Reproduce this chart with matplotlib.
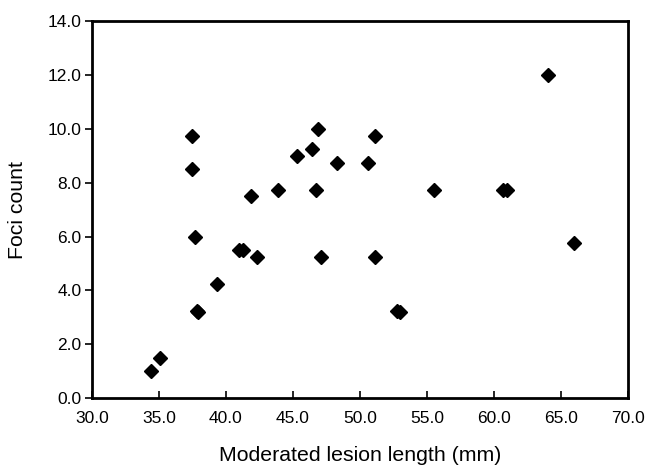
import matplotlib
matplotlib.use("Agg")
from matplotlib import pyplot as plt
from matplotlib.ticker import FormatStrFormatter

# lesion length (mm) vs foci count
lesion_mm = [34.4, 35.1, 37.5, 37.5, 37.7, 37.8, 37.9, 39.3, 41.0, 41.3,
             41.9, 42.3, 43.9, 45.3, 46.4, 46.9, 46.7, 47.1, 48.3, 50.6,
             51.1, 51.1, 52.8, 53.0, 55.5, 60.7, 61.0, 64.0, 66.0]
foci = [1.0, 1.5, 9.75, 8.5, 6.0, 3.25, 3.2, 4.25, 5.5, 5.5,
        7.5, 5.25, 7.75, 9.0, 9.25, 10.0, 7.75, 5.25, 8.75, 8.75,
        9.75, 5.25, 3.25, 3.2, 7.75, 7.75, 7.75, 12.0, 5.75]

x_ticks = [30, 35, 40, 45, 50, 55, 60, 65, 70]
y_ticks = [0, 2, 4, 6, 8, 10, 12, 14]

plt.rcParams['font.family'] = ['Liberation Sans', 'DejaVu Sans']

fig = plt.figure(figsize=(6.48, 4.67), dpi=100)
ax = fig.add_axes([0.142, 0.148, 0.827, 0.806])

ax.plot(lesion_mm, foci, linestyle='none', marker='D', markersize=7.5,
        color='black')

ax.set_xlim(30, 70)
ax.set_ylim(0, 14)
ax.set_xticks(x_ticks)
ax.set_yticks(y_ticks)
ax.xaxis.set_major_formatter(FormatStrFormatter('%.1f'))
ax.yaxis.set_major_formatter(FormatStrFormatter('%.1f'))

for s in ax.spines.values():
    s.set_linewidth(2)
ax.tick_params(axis='x', direction='in', length=5, width=1.2, labelsize=12.5, pad=9.5)
ax.tick_params(axis='y', direction='out', length=5, width=1.2, labelsize=12.5, pad=2.5)

ax.set_xlabel('Moderated lesion length (mm)', fontsize=15.3, labelpad=14)
ax.set_ylabel('Foci count', fontsize=15.3, labelpad=15)

fig.savefig('out.png', dpi=100)
